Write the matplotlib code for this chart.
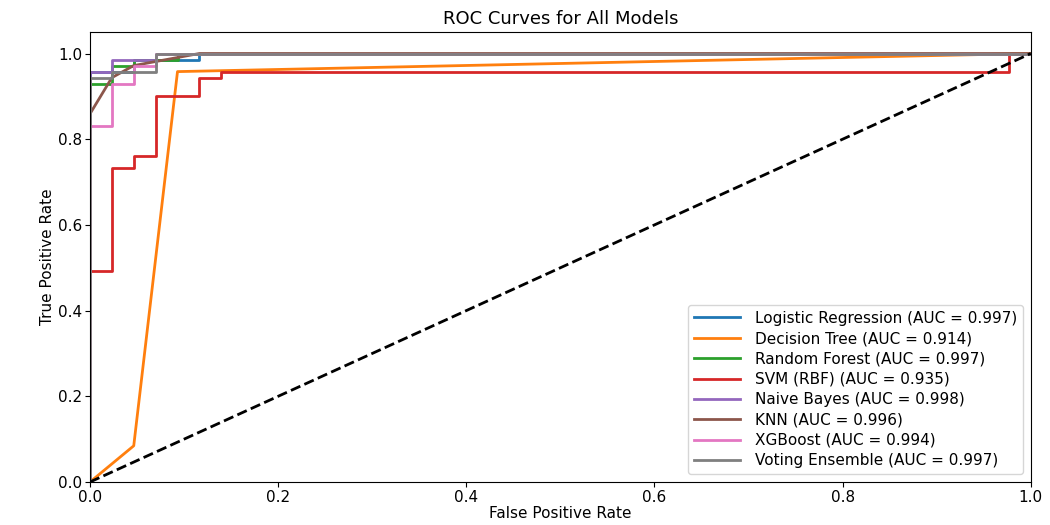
import matplotlib
matplotlib.use("Agg")
import matplotlib.pyplot as plt
import numpy as np

plt.rcParams["font.family"] = ["DejaVu Sans"]

N_NEG = 43
N_POS = 71

models = ["Logistic Regression", "Decision Tree", "Random Forest", "SVM (RBF)",
          "Naive Bayes", "KNN", "XGBoost", "Voting Ensemble"]
aucs = [0.997, 0.914, 0.997, 0.935, 0.998, 0.996, 0.994, 0.997]
colors = ["#1f77b4", "#ff7f0e", "#2ca02c", "#d62728", "#9467bd", "#8c564b", "#e377c2", "#7f7f7f"]

# ROC points as (false-positive count, true-positive count) out of N_NEG / N_POS
fp_lr = [0, 0, 2, 2, 5, 5, 43]
tp_lr = [0, 68, 68, 70, 70, 71, 71]
fp_dt = [0, 2, 4, 43]
tp_dt = [0, 6, 68, 71]
fp_rf = [0, 0, 1, 1, 2, 2, 4, 4, 43]
tp_rf = [0, 66, 66, 69, 69, 70, 70, 71, 71]
fp_svm = [0, 0, 1, 1, 2, 2, 3, 3, 5, 5, 6, 6, 42, 42, 43]
tp_svm = [0, 35, 35, 52, 52, 54, 54, 64, 64, 67, 67, 68, 68, 71, 71]
fp_nb = [0, 0, 1, 1, 3, 3, 43]
tp_nb = [0, 68, 68, 70, 70, 71, 71]
fp_knn = [0, 0, 1, 2, 5, 43]
tp_knn = [0, 61, 67, 69, 71, 71]
fp_xgb = [0, 0, 1, 1, 2, 2, 3, 3, 43]
tp_xgb = [0, 59, 59, 66, 66, 69, 69, 71, 71]
fp_ve = [0, 0, 1, 1, 3, 3, 43]
tp_ve = [0, 67, 67, 68, 68, 71, 71]

fps = [fp_lr, fp_dt, fp_rf, fp_svm, fp_nb, fp_knn, fp_xgb, fp_ve]
tps = [tp_lr, tp_dt, tp_rf, tp_svm, tp_nb, tp_knn, tp_xgb, tp_ve]

fig = plt.figure(figsize=(10.5, 5.25), dpi=100)
ax = fig.add_axes([0.0857, 0.0819, 0.896, 0.857])

for name, auc, c, fp, tp in zip(models, aucs, colors, fps, tps):
    fpr = np.array(fp) / N_NEG
    tpr = np.array(tp) / N_POS
    ax.plot(fpr, tpr, color=c, lw=2, label=f"{name} (AUC = {auc:.3f})")

ax.plot([0, 1], [0, 1], "k--", lw=2)
ax.set_xlim(0, 1.0)
ax.set_ylim(0, 1.05)
ax.set_xlabel("False Positive Rate", fontsize=11, labelpad=1)
ax.set_ylabel("True Positive Rate", fontsize=11, labelpad=2)
ax.set_title("ROC Curves for All Models", fontsize=13)
ax.tick_params(labelsize=11, pad=2)
ax.legend(loc="lower right", fontsize=11, handlelength=3.0, handletextpad=1.0,
          labelspacing=0.35, borderaxespad=0.5)

fig.savefig("out.png", dpi=100)
